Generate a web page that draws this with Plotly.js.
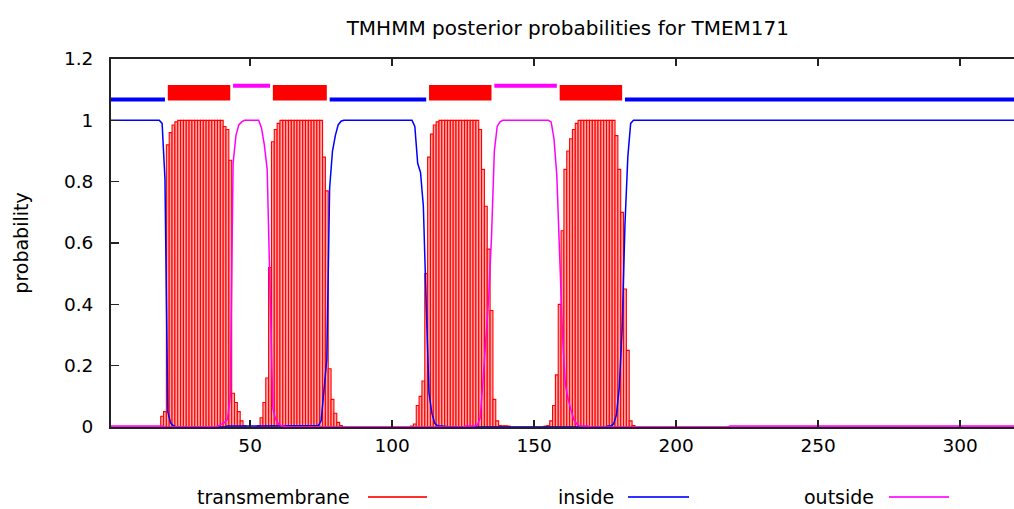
<!DOCTYPE html>
<html>
<head>
<meta charset="utf-8">
<script src="https://cdn.plot.ly/plotly-3.0.1.min.js"></script>
<style>html,body{margin:0;padding:0;background:#fff;}#chart{width:1014px;height:509px;}</style>
</head>
<body>
<div id="chart"></div>
<script>
// Posterior probabilities per residue (residue number = index + 1)
const inside = [
1,1,1,1,1,1,1,1,1,1,
1,1,1,1,1,1,1,1,0.99,0.81,
0.05,0.013,0.004,0,0,0,0,0,0,0,
0,0,0,0,0,0,0,0,0,0,
0,0.003,0.003,0.003,0.003,0.003,0.003,0.003,0.003,0.003,
0.003,0.003,0.003,0.003,0.003,0.003,0.003,0.003,0.003,0.003,
0.003,0.003,0.003,0.003,0.003,0.003,0.003,0.003,0.003,0.003,
0.003,0.003,0.003,0.005,0.02,0.11,0.22,0.78,0.90,0.95,
0.985,0.997,1,1,1,1,1,1,1,1,
1,1,1,1,1,1,1,1,1,1,
1,1,1,1,1,1,1,0.98,0.86,0.83,
0.72,0.40,0.11,0.045,0.012,0.004,0.003,0.003,0,0,
0,0,0,0,0,0,0,0,0,0,
0,0,0,0,0,0,0,0,0,0,
0,0,0,0,0,0,0,0,0,0,
0,0,0,0,0,0,0,0,0,0,
0,0,0,0,0,0,0,0,0,0,
0,0,0,0,0,0.003,0.003,0.01,0.04,0.13,
0.32,0.66,0.88,0.99,1,1,1,1,1,1,
1,1,1,1,1,1,1,1,1,1,
1,1,1,1,1,1,1,1,1,1,
1,1,1,1,1,1,1,1,1,1,
1,1,1,1,1,1,1,1,1,1,
1,1,1,1,1,1,1,1,1,1,
1,1,1,1,1,1,1,1,1,1,
1,1,1,1,1,1,1,1,1,1,
1,1,1,1,1,1,1,1,1,1,
1,1,1,1,1,1,1,1,1,1,
1,1,1,1,1,1,1,1,1,1,
1,1,1,1,1,1,1,1,1,1,
1,1,1,1,1,1,1,1,1,1,
1,1,1,1,1,1,1,1,1,1,
1,1,1
];
const outside = [
0.003,0.003,0.003,0.003,0.003,0.003,0.003,0.003,0.003,0.003,
0.003,0.003,0.003,0.003,0.003,0.003,0.003,0.003,0.003,0,
0,0,0,0,0,0,0,0,0,0,
0,0,0,0,0,0,0,0.002,0.004,0.01,
0.015,0.025,0.10,0.86,0.95,0.985,0.995,1,1,1,
1,1,1,0.975,0.92,0.84,0.46,0.06,0.025,0.01,
0.004,0.002,0,0,0,0,0,0,0,0,
0,0,0,0,0,0,0,0,0,0,
0,0,0,0,0,0,0,0,0,0,
0,0,0,0,0,0,0,0,0,0,
0,0,0,0,0,0,0,0,0,0,
0,0,0,0,0,0,0,0,0,0,
0,0,0,0,0,0.003,0.003,0.003,0.003,0.006,
0.03,0.15,0.27,0.42,0.62,0.90,0.98,0.995,1,1,
1,1,1,1,1,1,1,1,1,1,
1,1,1,1,1,0.995,0.94,0.82,0.58,0.30,
0.14,0.09,0.055,0.025,0.01,0.003,0.003,0.003,0.003,0,
0,0,0,0,0,0,0,0,0,0,
0,0,0,0,0,0,0,0,0,0,
0,0,0,0,0,0,0,0,0,0,
0,0,0,0,0,0,0,0,0,0,
0,0,0,0,0,0,0,0,0.003,0.003,
0.003,0.003,0.003,0.003,0.003,0.003,0.003,0.003,0.003,0.003,
0.003,0.003,0.003,0.003,0.003,0.003,0.003,0.003,0.003,0.003,
0.003,0.003,0.003,0.003,0.003,0.003,0.003,0.003,0.003,0.003,
0.003,0.003,0.003,0.003,0.003,0.003,0.003,0.003,0.003,0.003,
0.003,0.003,0.003,0.003,0.003,0.003,0.003,0.003,0.003,0.003,
0.003,0.003,0.003,0.003,0.003,0.003,0.003,0.003,0.003,0.003,
0.003,0.003,0.003,0.003,0.003,0.003,0.003,0.003,0.003,0.003,
0.003,0.003,0.003,0.003,0.003,0.003,0.003,0.003,0.003,0.003,
0.003,0.003,0.003,0.003,0.003,0.003,0.003,0.003,0.003,0.003,
0.003,0.003,0.003,0.003,0.003,0.003,0.003,0.003,0.003,0.003,
0.003,0.003,0.003
];
const transmembrane = [
0,0,0,0,0,0,0,0,0,0,
0,0,0,0,0,0,0,0,0.035,0.05,
0.92,0.96,0.985,0.995,1,1,1,1,1,1,
1,1,1,1,1,1,1,1,1,1,
0.98,0.97,0.87,0.11,0.08,0.05,0.02,0.005,0,0,
0,0,0.005,0.03,0.08,0.16,0.52,0.93,0.97,0.99,
1,1,1,1,1,1,1,1,1,1,
1,1,1,1,1,0.88,0.77,0.19,0.09,0.045,
0.015,0.005,0,0,0,0,0,0,0,0,
0,0,0,0,0,0,0,0,0,0,
0,0,0,0,0,0,0.003,0.01,0.07,0.10,
0.15,0.50,0.88,0.955,0.985,0.995,1,1,1,1,
1,1,1,1,1,1,1,1,1,1,
0.97,0.84,0.72,0.58,0.38,0.09,0.02,0.005,0.004,0.004,
0.003,0,0,0,0,0,0,0,0,0,
0,0,0,0.003,0.005,0.02,0.07,0.17,0.40,0.64,
0.84,0.90,0.94,0.97,0.99,1,1,1,1,1,
1,1,1,1,1,1,1,1,0.95,0.84,
0.70,0.45,0.25,0.02,0.005,0,0,0,0,0,
0,0,0,0,0,0,0,0,0,0,
0,0,0,0,0,0,0,0,0,0,
0,0,0,0,0,0,0,0,0,0,
0,0,0,0,0,0,0,0,0,0,
0,0,0,0,0,0,0,0,0,0,
0,0,0,0,0,0,0,0,0,0,
0,0,0,0,0,0,0,0,0,0,
0,0,0,0,0,0,0,0,0,0,
0,0,0,0,0,0,0,0,0,0,
0,0,0,0,0,0,0,0,0,0,
0,0,0,0,0,0,0,0,0,0,
0,0,0,0,0,0,0,0,0,0,
0,0,0,0,0,0,0,0,0,0,
0,0,0
];
// Predicted topology
const segType  = ['inside','TMhelix','outside','TMhelix','inside','TMhelix','outside','TMhelix','inside'];
const segStart = [1, 21, 44, 58, 78, 113, 136, 159, 182];
const segEnd   = [20, 43, 57, 77, 112, 135, 158, 181, 323];
const xTicks = [50, 100, 150, 200, 250, 300];
const yTicks = [0, 0.2, 0.4, 0.6, 0.8, 1, 1.2];
const yTickText = ['0', '0.2', '0.4', '0.6', '0.8', '1', '1.2'];
const legendNames = ['transmembrane', 'inside', 'outside'];

const residues = inside.map((_, i) => i + 1);
const RED = '#ff0000', BLUE = '#0000ff', MAG = '#ff00ff';
const FONT = 'DejaVu Sans, Verdana, sans-serif';

const traces = [
  {type: 'bar', x: residues, y: transmembrane, width: 1,
   marker: {color: '#ffa8a8', line: {color: '#ff0000', width: 1.1}}, name: 'transmembrane', showlegend: false},
  {type: 'scatter', mode: 'lines', x: residues, y: inside,
   line: {color: BLUE, width: 1.5}, name: 'inside', showlegend: false},
  {type: 'scatter', mode: 'lines', x: residues, y: outside,
   line: {color: MAG, width: 1.5}, name: 'outside', showlegend: false}
];

const shapes = [];
segType.forEach((t, i) => {
  if (t === 'TMhelix') {
    shapes.push({type: 'rect', xref: 'x', yref: 'y', x0: segStart[i], x1: segEnd[i],
      y0: 1.065, y1: 1.115, fillcolor: RED, line: {width: 0}, layer: 'above'});
  } else if (t === 'inside') {
    shapes.push({type: 'line', xref: 'x', yref: 'y', x0: segStart[i], x1: segEnd[i],
      y0: 1.068, y1: 1.068, line: {color: BLUE, width: 4}, layer: 'above'});
  } else {
    shapes.push({type: 'line', xref: 'x', yref: 'y', x0: segStart[i], x1: segEnd[i],
      y0: 1.113, y1: 1.113, line: {color: MAG, width: 4}, layer: 'above'});
  }
});

// Legend (gnuplot style: text then line sample)
const legColors = ['#ff3030', '#3030ff', '#ff30ff'];
const legTextEnd = [352, 616, 876];
const legLine0 = [368, 628, 889];
const legLine1 = [427, 689, 949];
const plotL = 111, plotW = 903, plotB = 427, plotH = 368;
const legY = (plotB - 497) / plotH;
const annotations = [];
legendNames.forEach((n, i) => {
  annotations.push({xref: 'paper', yref: 'paper', x: (legTextEnd[i] - plotL) / plotW, y: legY,
    xanchor: 'right', yanchor: 'middle', text: n, showarrow: false,
    font: {family: FONT, size: 19, color: '#000'}});
  shapes.push({type: 'line', xref: 'paper', yref: 'paper',
    x0: (legLine0[i] - plotL) / plotW, x1: (legLine1[i] - plotL) / plotW,
    y0: legY, y1: legY, line: {color: legColors[i], width: 2}});
});

const layout = {
  width: 1014, height: 509,
  margin: {l: 111, r: 0, t: 59, b: 82, pad: 0},
  paper_bgcolor: '#fff', plot_bgcolor: '#fff',
  showlegend: false, bargap: 0,
  font: {family: FONT, size: 19, color: '#000'},
  title: {text: 'TMHMM posterior probabilities for TMEM171', x: 0.56, xanchor: 'center',
    y: 1 - 28 / 509, yanchor: 'middle', font: {family: FONT, size: 20, color: '#000'}},
  xaxis: {range: [1, 319], tickvals: xTicks, ticks: 'inside', ticklen: 7, tickwidth: 1.5,
    tickcolor: '#222', showline: true, linecolor: '#222', linewidth: 2, mirror: 'ticks',
    showgrid: false, zeroline: false, ticklabelstandoff: 1,
    tickfont: {family: FONT, size: 18.5, color: '#000'}},
  yaxis: {range: [0, 1.2], tickvals: yTicks, ticktext: yTickText, ticks: 'inside', ticklen: 8,
    tickwidth: 1.5, tickcolor: '#222', showline: true, linecolor: '#222', linewidth: 2,
    showgrid: false, zeroline: false, ticklabelstandoff: 12,
    tickfont: {family: FONT, size: 18.5, color: '#000'},
    title: {text: 'probability', standoff: 30, font: {family: FONT, size: 19, color: '#000'}}},
  shapes: shapes,
  annotations: annotations
};

Plotly.newPlot('chart', traces, layout, {staticPlot: true, displayModeBar: false});
</script>
</body>
</html>
